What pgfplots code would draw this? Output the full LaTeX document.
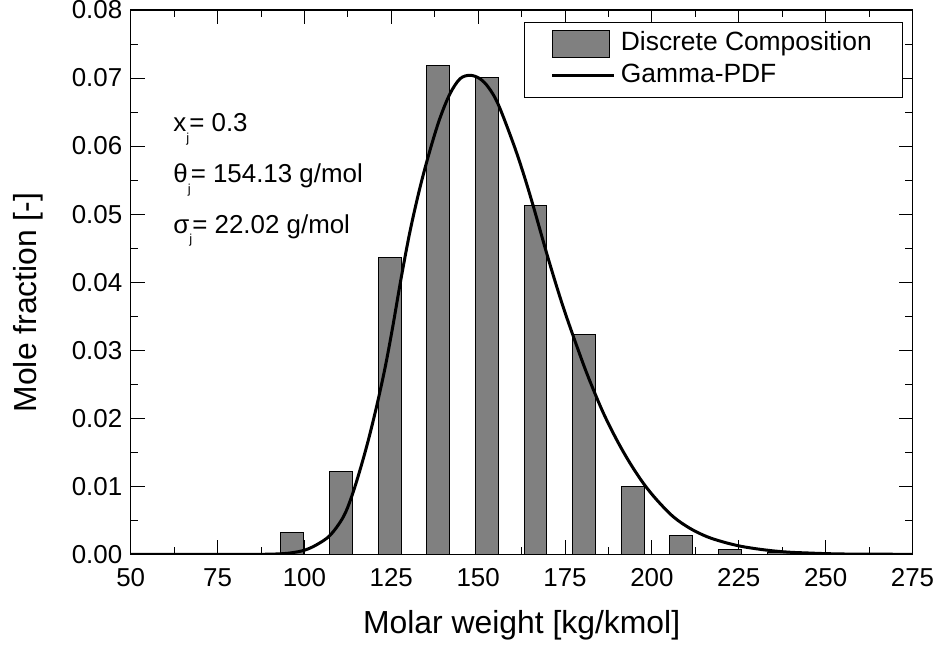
\documentclass[border=0pt]{standalone}
\usepackage{fontspec}
\setmainfont{Liberation Sans}
\usepackage{pgfplots}
\pgfplotsset{compat=1.18}
\definecolor{bargray}{HTML}{808080}
\newcommand{\sj}{\raisebox{-10.5bp}{\fontsize{13}{13}\selectfont j}}
\begin{document}
\begin{tikzpicture}
\begin{axis}[
  at={(0,0)}, anchor=south west,
  scale only axis, width=781.8bp, height=544.3bp,
  xmin=50, xmax=275, ymin=0, ymax=0.08,
  xtick={50,75,100,125,150,175,200,225,250,275},
  ytick={0,0.01,0.02,0.03,0.04,0.05,0.06,0.07,0.08},
  minor x tick num=1, minor y tick num=1,
  tick align=inside, major tick length=14bp, minor tick length=7.5bp,
  tick style={black, line width=1bp},
  axis line style={line width=1.5bp},
  /pgf/number format/assume math mode=true,
  scaled y ticks=false,
  ticklabel style={font=\fontsize{26}{30}\selectfont},
  xticklabel style={yshift=-11bp},
  yticklabel style={xshift=-5bp, /pgf/number format/.cd, fixed, fixed zerofill, precision=2},
  legend style={at={(0.9882,0.9785)}, anchor=north east, draw=black, line width=1bp,
    font=\fontsize{26.5}{31}\selectfont, inner xsep=26bp, inner ysep=5.5bp, row sep=0bp,
    nodes={inner xsep=5bp, inner ysep=3.5bp, text height=19.5bp, text depth=5.5bp}},
  legend cell align=left,
]
\addplot[ybar, bar width=6.6, bar shift=0, fill=bargray, draw=black, line width=1bp,
  legend image code/.code={\draw[fill=bargray, draw=black, line width=1bp] (0bp,-13.5bp) rectangle (57bp,13.5bp);}]
coordinates {
(96.5,0.0032) (110.5,0.0121) (124.5,0.0436) (138.5,0.0719) (152.5,0.0701)
(166.5,0.0513) (180.5,0.0323) (194.5,0.0099) (208.5,0.0028) (222.5,0.00065)
(236.5,0.0002)
};
\addlegendentry{Discrete Composition}
\addplot[black, line width=3bp, smooth, tension=0.55,
  legend image code/.code={\draw[black, line width=3bp] (0bp,0bp) -- (62bp,0bp);}]
coordinates {
(50,0) (85,0) (92,0.00005) (96,0.0002) (100,0.0006) (103.5,0.0014) (107.4,0.0028)
(111.2,0.0055) (113.6,0.0085) (116,0.0124) (118.4,0.0168) (120.8,0.0218)
(123.2,0.0274) (125.4,0.0334) (127.8,0.0405) (130.4,0.0475) (133.3,0.0540)
(136.2,0.0595) (139,0.0641) (141.9,0.0677) (144.8,0.0699) (147.7,0.0704)
(150.5,0.0699) (153,0.0686) (155.8,0.0661) (160.1,0.0604) (163,0.0560)
(165.9,0.0511) (170.2,0.0434) (174.5,0.0363) (179.3,0.0293) (182.2,0.0254)
(186,0.0208) (189.9,0.0168) (193.7,0.0134) (197.6,0.0104) (201.4,0.0080)
(206.2,0.0055) (211,0.0038) (215.8,0.0026) (220.6,0.0018) (225.4,0.0012)
(230.2,0.0008) (235,0.0005) (239.8,0.0003) (244.6,0.0002) (250,0.0001)
(258,0.00003) (275,0)
};
\addlegendentry{Gamma-PDF}
\node[anchor=base west, font=\fontsize{26}{30}\selectfont] at (axis cs:61.3,0.0621) {x\sj= 0.3};
\node[anchor=base west, font=\fontsize{26}{30}\selectfont] at (axis cs:61.3,0.0546) {θ\sj= 154.13 g/mol};
\node[anchor=base west, font=\fontsize{26}{30}\selectfont] at (axis cs:61.3,0.0472) {σ\sj= 22.02 g/mol};
\end{axis}
\node[anchor=base, font=\fontsize{32}{36}\selectfont] at (390.9bp,-79bp) {Molar weight [kg/kmol]};
\node[anchor=base, rotate=90, font=\fontsize{32}{36}\selectfont] at (-93.7bp,251.8bp) {Mole fraction [-]};
\pgfresetboundingbox
\path[use as bounding box] (-130.7bp,-93.7bp) rectangle (807.3bp,554.3bp);
\end{tikzpicture}
\end{document}
